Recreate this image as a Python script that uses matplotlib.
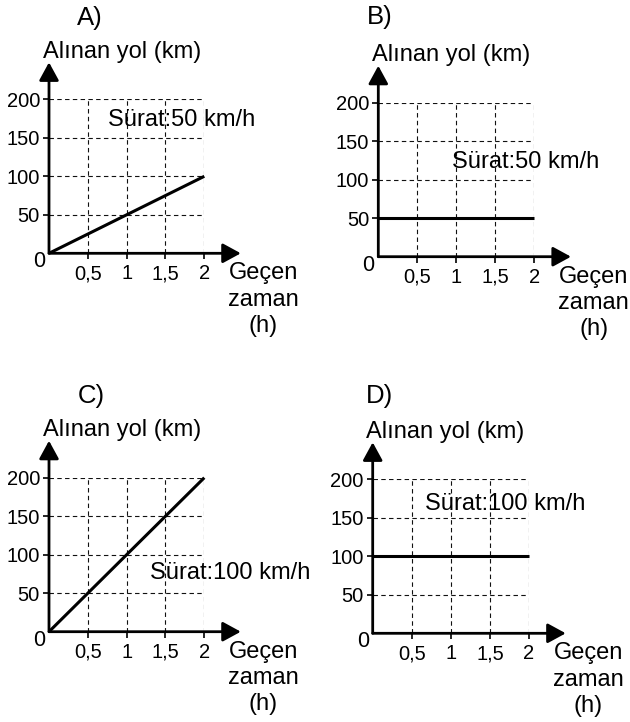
import matplotlib.pyplot as plt

plt.rcParams['font.family'] = ['Liberation Sans', 'DejaVu Sans']

# data
panels = ['A)', 'B)', 'C)', 'D)']
times = [0, 2]
distances = [[0, 100], [50, 50], [0, 200], [100, 100]]
speeds = ['Sürat:50 km/h', 'Sürat:50 km/h', 'Sürat:100 km/h', 'Sürat:100 km/h']
x_ticks = [0.5, 1, 1.5, 2]
x_ticklabels = ['0,5', '1', '1,5', '2']
y_ticks = [50, 100, 150, 200]
y_label = 'Alınan yol (km)'
x_label = 'Geçen\nzaman\n(h)'

W, H = 630, 722
# pixel boxes: origin x, origin y, x at 2, y at 200
boxes = [(49, 253.3, 204.3, 99.3), (378.3, 256.7, 534.3, 102.7),
         (49, 631.7, 204.3, 477.7), (372.7, 633.3, 529, 479.3)]
letter_pos = [(0.53, 306), (0.02, 311), (0.55, 306), (0.09, 308)]
speed_pos = [(0.76, 173), (0.94, 123), (1.30, 76), (0.67, 168)]

fig = plt.figure(figsize=(W / 100, H / 100), dpi=100)

for i in range(4):
    x0, y0, x2, y2 = boxes[i]
    ax = fig.add_axes([x0 / W, 1 - y0 / H, (x2 - x0) / W, (y0 - y2) / H])
    ax.set_xlim(0, 2)
    ax.set_ylim(0, 200)
    for s in ax.spines.values():
        s.set_visible(False)

    ax.set_xticks(x_ticks)
    ax.set_xticklabels(x_ticklabels)
    ax.set_yticks(y_ticks)
    ax.tick_params(labelsize=14.5, length=4, width=1.2, direction='out')
    ax.tick_params(axis='x', pad=4)
    ax.tick_params(axis='y', pad=2.5)
    ax.grid(True, color='#111111', lw=0.8, linestyle=(0, (4, 3)))
    ax.set_axisbelow(True)

    arrow = dict(arrowstyle='-|>,head_length=0.55,head_width=0.3', lw=2,
                 color='black', shrinkA=0, shrinkB=0, mutation_scale=20)
    ax.annotate('', xy=(2.47, 0), xytext=(0, 0), arrowprops=arrow,
                annotation_clip=False)
    ax.annotate('', xy=(0, 248), xytext=(0, 0), arrowprops=arrow,
                annotation_clip=False)

    ax.plot(times, distances[i], color='black', lw=2.2, clip_on=False,
            solid_capstyle='butt', zorder=3)

    ax.annotate('0', xy=(0, 0), xytext=(-7, -6), textcoords='offset points',
                ha='center', va='center', fontsize=15.5, annotation_clip=False)
    ax.text(letter_pos[i][0], letter_pos[i][1], panels[i], fontsize=18.5,
            ha='center', va='center', clip_on=False)
    ax.text(-0.08, 262, y_label, fontsize=17, ha='left', va='center',
            clip_on=False)
    ax.text(speed_pos[i][0], speed_pos[i][1], speeds[i], fontsize=17,
            ha='left', va='center', clip_on=False)
    ax.text(2.76, -60, x_label, fontsize=17, ha='center', va='center',
            multialignment='center', linespacing=1.25, clip_on=False)

fig.savefig('out.png', dpi=100, facecolor='white')
